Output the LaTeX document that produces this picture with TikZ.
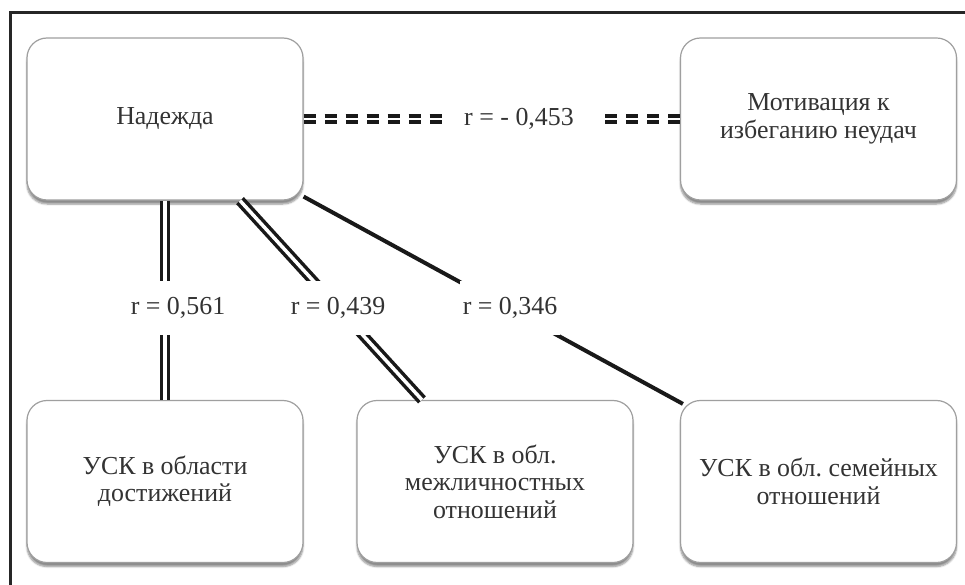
\documentclass[tikz,border=0pt]{standalone}
\usepackage{fontspec}
\setmainfont{Liberation Serif}
\usetikzlibrary{shadows.blur}
\frenchspacing

\begin{document}
\begin{tikzpicture}[x=1bp, y=-1bp,
  every node/.style={font=\fontsize{26}{27.5}\selectfont, text=black!80},
  box/.style={draw=gray!75, line width=1.2bp, fill=white, rounded corners=20bp, minimum width=276bp, minimum height=162bp, align=center,
    blur shadow={shadow xshift=0bp, shadow yshift=-4bp, shadow blur steps=6, shadow opacity=45}},
  rlab/.style={fill=white, inner xsep=3bp, minimum height=54bp},
  dbl/.style={draw=black!90, double=white, double distance=3.5bp, line width=3.5bp},
  dbldash/.style={dbl, line width=4bp, double distance=2.5bp, dash pattern=on 12bp off 9bp}]
\useasboundingbox (0,0) rectangle (965,585);
% frame
\draw[line width=3bp, black!85] (965,13) -- (10.5,13) -- (10.5,585);
% boxes
\node[box] (nad) at (165,119) {Надежда};
\node[box] (mot) at (818.5,119) {Мотивация к\\избеганию неудач};
\node[box] (dost) at (165,481.5) {УСК в области\\достижений};
\node[box] (mezh) at (495,481.5) {УСК в обл.\\межличностных\\отношений};
\node[box] (sem) at (818.5,481.5) {УСК в обл. семейных\\отношений};
% links
\draw[dbl] (nad.south) -- (dost.north);
\draw[dbl] ([xshift=75bp]nad.south) -- ([xshift=-73bp]mezh.north);
\draw[line width=4bp, black!90] ([yshift=4bp]nad.south east) -- ([xshift=3bp,yshift=-4bp]sem.north west);
\node[rlab] (r1) at (178,308) {r = 0,561};
\node[rlab] (r2) at (338,308) {r = 0,439};
\node[rlab] (r3) at (510,308) {r = 0,346};
\node[fill=white, minimum width=154bp] (r4) at (519,119) {r = - 0,453};
\draw[dbldash] (nad.east) -- (r4.west);
\draw[dbldash] (mot.west) -- (r4.east);
\end{tikzpicture}
\end{document}
